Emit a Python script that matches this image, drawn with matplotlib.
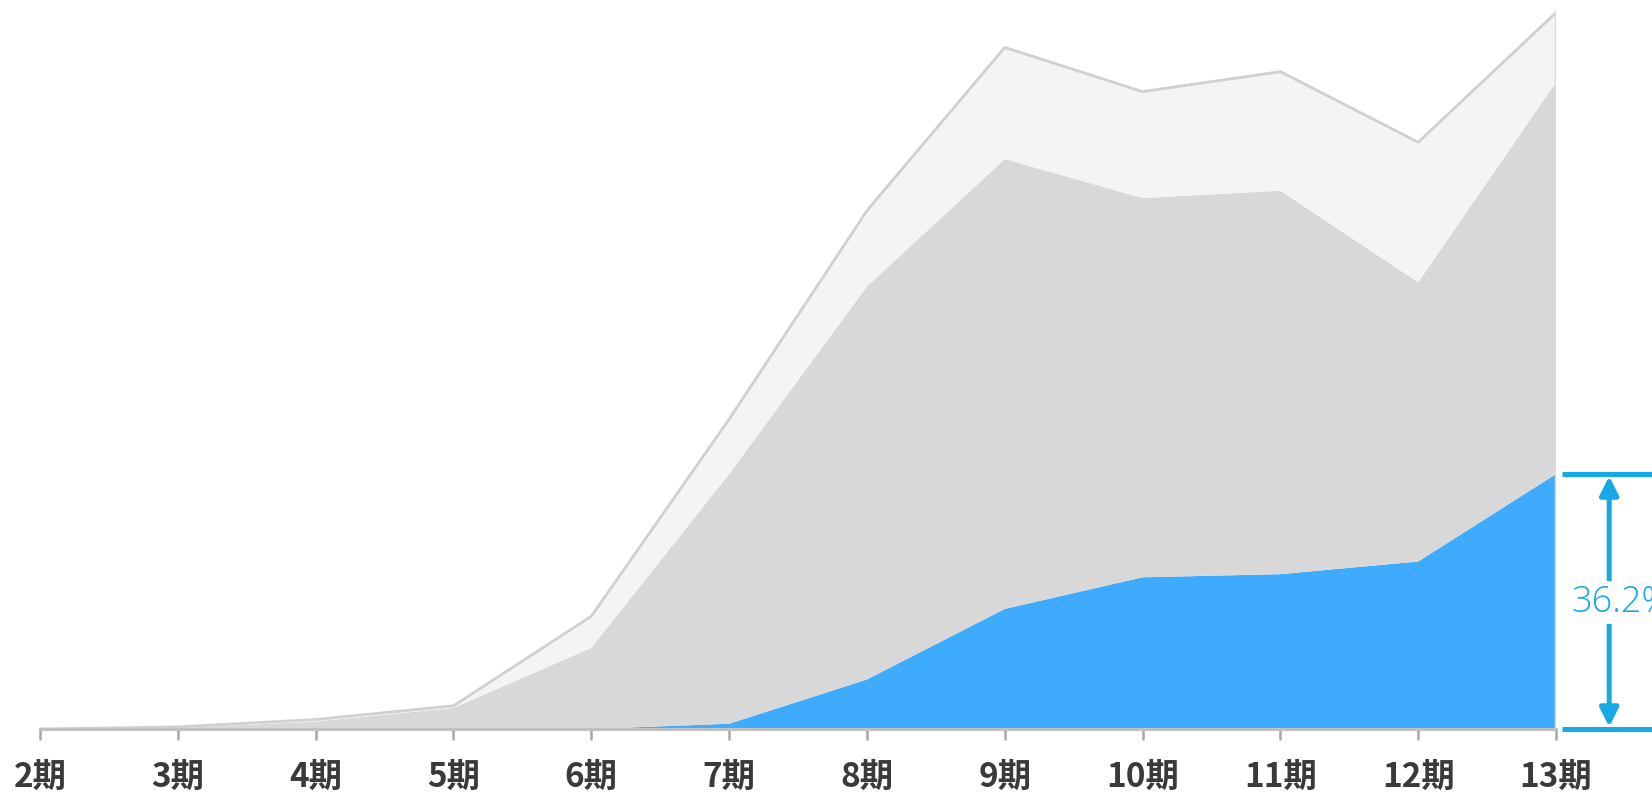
import matplotlib.pyplot as plt

plt.rcParams['font.family'] = ['Noto Sans CJK SC', 'DejaVu Sans']

# 期数
periods = ['2期', '3期', '4期', '5期', '6期', '7期', '8期', '9期', '10期', '11期', '12期', '13期']
# 三层堆叠的数值 (自下而上)
blue_vals = [0, 0, 0, 0, 0, 5, 47, 114, 144, 147, 159, 242]
gray_vals = [0, 1, 7, 20, 77, 237, 373, 427, 360, 364, 265, 372]
light_vals = [0, 1, 2, 2, 30, 52, 72, 106, 101, 113, 133, 66]
share_label = '36.2%'

fig = plt.figure(figsize=(16.52, 7.99), dpi=100)
ax = fig.add_axes([40 / 1652, 70 / 799, 1516 / 1652, 729 / 799])

x = list(range(len(periods)))
ax.stackplot(x, blue_vals, gray_vals, light_vals,
             colors=['#3eabff', '#d8d8d8', '#f4f4f4'], linewidth=0)

totals = [a + b + c for a, b, c in zip(blue_vals, gray_vals, light_vals)]
ax.plot(x, totals, color='#d0d0d0', lw=2)
ax.plot([x[-1], x[-1]], [0, totals[-1]], color='#dadada', lw=2.5)

ax.set_xlim(0, len(periods) - 1)
ax.set_ylim(0, 692)
ax.set_xticks(x)
ax.set_xticklabels(periods, fontweight='bold')
ax.tick_params(axis='x', length=8, width=1.8, color='#a8a8a8', pad=15,
               labelsize=24, labelcolor='#3a3a3a')
ax.set_yticks([])
for s in ['left', 'top', 'right']:
    ax.spines[s].set_visible(False)
ax.spines['bottom'].set_color('#c0c0c0')
ax.spines['bottom'].set_linewidth(2.2)

# 右侧标注
acc = '#17a9e6'
last = len(periods) - 1
ax.plot([last + 0.045, last + 0.75], [blue_vals[-1]] * 2, color=acc, lw=3.6,
        clip_on=False, solid_capstyle='butt')
ax.plot([last + 0.045, last + 0.75], [0, 0], color=acc, lw=3.6,
        clip_on=False, solid_capstyle='butt')
ax.annotate('', xy=(last + 0.386, blue_vals[-1] - 2), xytext=(last + 0.386, 2),
            arrowprops=dict(arrowstyle='<|-|>', color=acc, lw=3.6,
                            mutation_scale=28, shrinkA=0, shrinkB=0),
            annotation_clip=False)
ax.text(last + 0.113, 120, share_label, color=acc, fontsize=26,
        family=['Open Sans', 'DejaVu Sans'], fontweight='light',
        ha='left', va='center', clip_on=False,
        bbox=dict(boxstyle='square,pad=0.08', fc='white', ec='none'))

fig.savefig('out.png', dpi=100)
